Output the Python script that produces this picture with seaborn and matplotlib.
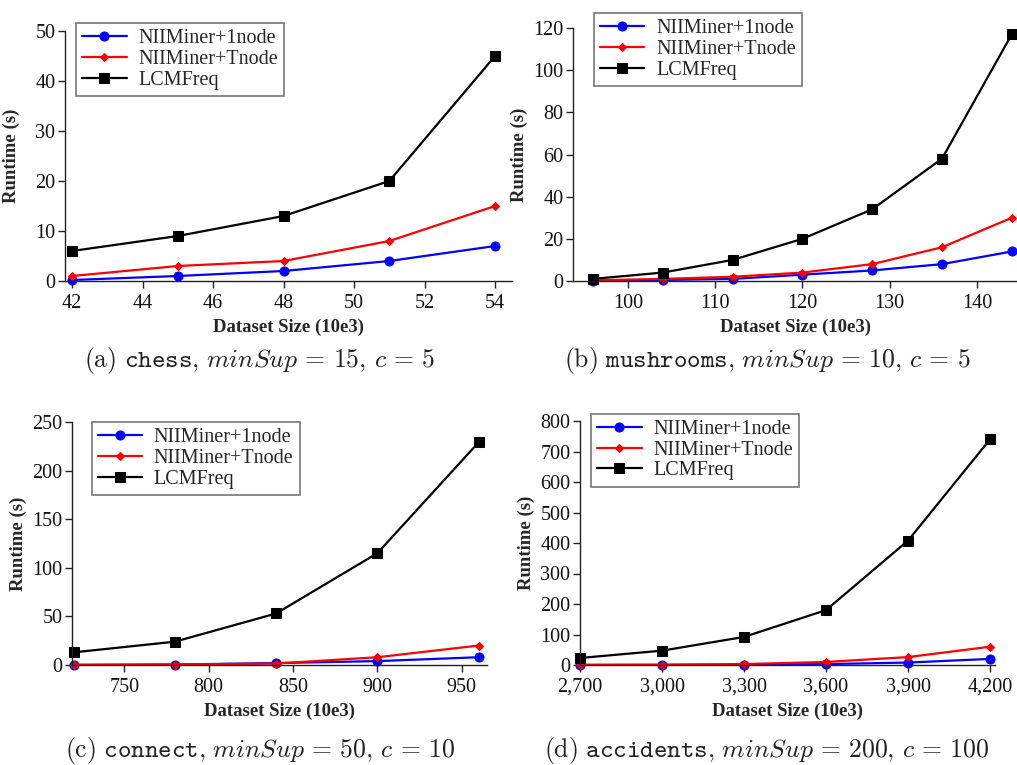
import numpy as np
import pandas as pd
import matplotlib
matplotlib.use("Agg")
import matplotlib.pyplot as plt
import seaborn as sns

# ---- data ----
series_names = ["NIIMiner+1node", "NIIMiner+Tnode", "LCMFreq"]

chess_x = [42, 45, 48, 51, 54]
chess_1node = [0.2, 1, 2, 4, 7]
chess_tnode = [1, 3, 4, 8, 15]
chess_lcm = [6, 9, 13, 20, 45]

mush_x = [96, 104, 112, 120, 128, 136, 144]
mush_1node = [0.1, 0.5, 1, 3, 5, 8, 14]
mush_tnode = [0.3, 1, 2, 4, 8, 16, 30]
mush_lcm = [1, 4, 10, 20, 34, 58, 117]

conn_x = [720, 780, 840, 900, 960]
conn_1node = [0.1, 0.5, 2, 4, 8]
conn_tnode = [0.2, 0.5, 1.5, 8, 20]
conn_lcm = [13, 24, 53, 115, 229]

acc_x = [2700, 3000, 3300, 3600, 3900, 4200]
acc_1node = [0.2, 0.5, 1, 3, 8, 20]
acc_tnode = [0.5, 1, 3, 10, 26, 60]
acc_lcm = [23, 47, 92, 180, 408, 740]

captions = [
    r"$\mathrm{(a)}\ \mathtt{chess}\mathrm{,}\ minSup\,=\,15,\,c\,=\,5$",
    r"$\mathrm{(b)}\ \mathtt{mushrooms}\mathrm{,}\ minSup\,=\,10,\,c\,=\,5$",
    r"$\mathrm{(c)}\ \mathtt{connect}\mathrm{,}\ minSup\,=\,50,\,c\,=\,10$",
    r"$\mathrm{(d)}\ \mathtt{accidents}\mathrm{,}\ minSup\,=\,200,\,c\,=\,100$",
]

sns.set_style("ticks")
plt.rcParams["font.family"] = ["Liberation Serif", "DejaVu Serif"]
plt.rcParams["mathtext.fontset"] = "cm"

fig = plt.figure(figsize=(10.17, 7.65), dpi=100)

W, H = 1017, 765
def px_axes(l, t, r, b):
    return fig.add_axes([l / W, (H - b) / H, (r - l) / W, (b - t) / H])

panels = [
    dict(box=(65, 31, 512, 281), x=chess_x, ys=[chess_1node, chess_tnode, chess_lcm],
         xlim=(41.8, 54.48), ylim=(0, 50), xticks=[42, 44, 46, 48, 50, 52, 54],
         yticks=[0, 10, 20, 30, 40, 50], leg=(0.025, 1.032), cap=(260, 360), comma=False),
    dict(box=(573, 28, 1017, 281), x=mush_x, ys=[mush_1node, mush_tnode, mush_lcm],
         xlim=(93.7, 144.6), ylim=(0, 120), xticks=[100, 110, 120, 130, 140],
         yticks=[0, 20, 40, 60, 80, 100, 120], leg=(0.047, 1.058), cap=(767, 360), comma=False),
    dict(box=(72, 422, 487, 665), x=conn_x, ys=[conn_1node, conn_tnode, conn_lcm],
         xlim=(719, 965), ylim=(0, 250), xticks=[750, 800, 850, 900, 950],
         yticks=[0, 50, 100, 150, 200, 250], leg=(0.047, 1.0), cap=(260, 750), comma=False),
    dict(box=(580, 421, 995, 665), x=acc_x, ys=[acc_1node, acc_tnode, acc_lcm],
         xlim=(2700, 4218), ylim=(0, 800), xticks=[2700, 3000, 3300, 3600, 3900, 4200],
         yticks=[0, 100, 200, 300, 400, 500, 600, 700, 800], leg=(0.027, 1.029), cap=(767, 750), comma=True),
]

styles = [
    dict(color="#0000ff", marker="o", markersize=6.5),
    dict(color="#ff0000", marker="D", markersize=4),
    dict(color="#000000", marker="s", markersize=6.5),
]

for p, cap in zip(panels, captions):
    l, t, r, b = p["box"]
    ax = px_axes(l, t, r, b)
    for name, y, st in zip(series_names, p["ys"], styles):
        df = pd.DataFrame({"x": p["x"], "y": y})
        sns.lineplot(data=df, x="x", y="y", ax=ax, label=name, color=st["color"],
                     marker=st["marker"], markersize=st["markersize"],
                     markeredgecolor=st["color"], linewidth=1.6, clip_on=False)
    ax.set_xlim(*p["xlim"])
    ax.set_ylim(*p["ylim"])
    ax.set_xticks(p["xticks"])
    ax.set_yticks(p["yticks"])
    if p["comma"]:
        ax.set_xticklabels([f"{v:,}" for v in p["xticks"]])
    sns.despine(ax=ax)
    for s in ["left", "bottom"]:
        ax.spines[s].set_linewidth(1.0)
        ax.spines[s].set_color("#222222")
    ax.tick_params(axis="both", labelsize=14.5, length=5, width=1.0, color="#222222",
                   labelcolor="#111111")
    ax.tick_params(axis="x", pad=4)
    ax.tick_params(axis="y", pad=2)
    ax.set_xlabel("Dataset Size (10e3)", fontsize=13.5, fontweight="bold")
    ax.set_ylabel("Runtime (s)", fontsize=13.5, fontweight="bold")
    axw = r - l
    axh = b - t
    ax.yaxis.set_label_coords(-45 / axw, 0.5)
    ax.xaxis.set_label_coords(0.5, -38 / axh)
    leg = ax.legend(loc="upper left", bbox_to_anchor=p["leg"], borderaxespad=0,
                    fontsize=14.5, frameon=True, fancybox=False, handlelength=2.2,
                    borderpad=0.3, labelspacing=0.08, handletextpad=0.6)
    leg.get_frame().set_edgecolor("#555555")
    leg.get_frame().set_linewidth(1.2)
    fig.text(p["cap"][0] / W, 1 - p["cap"][1] / H, cap, ha="center", va="center",
             fontsize=18.5, color="#222222")

fig.savefig("out.png", dpi=100)
